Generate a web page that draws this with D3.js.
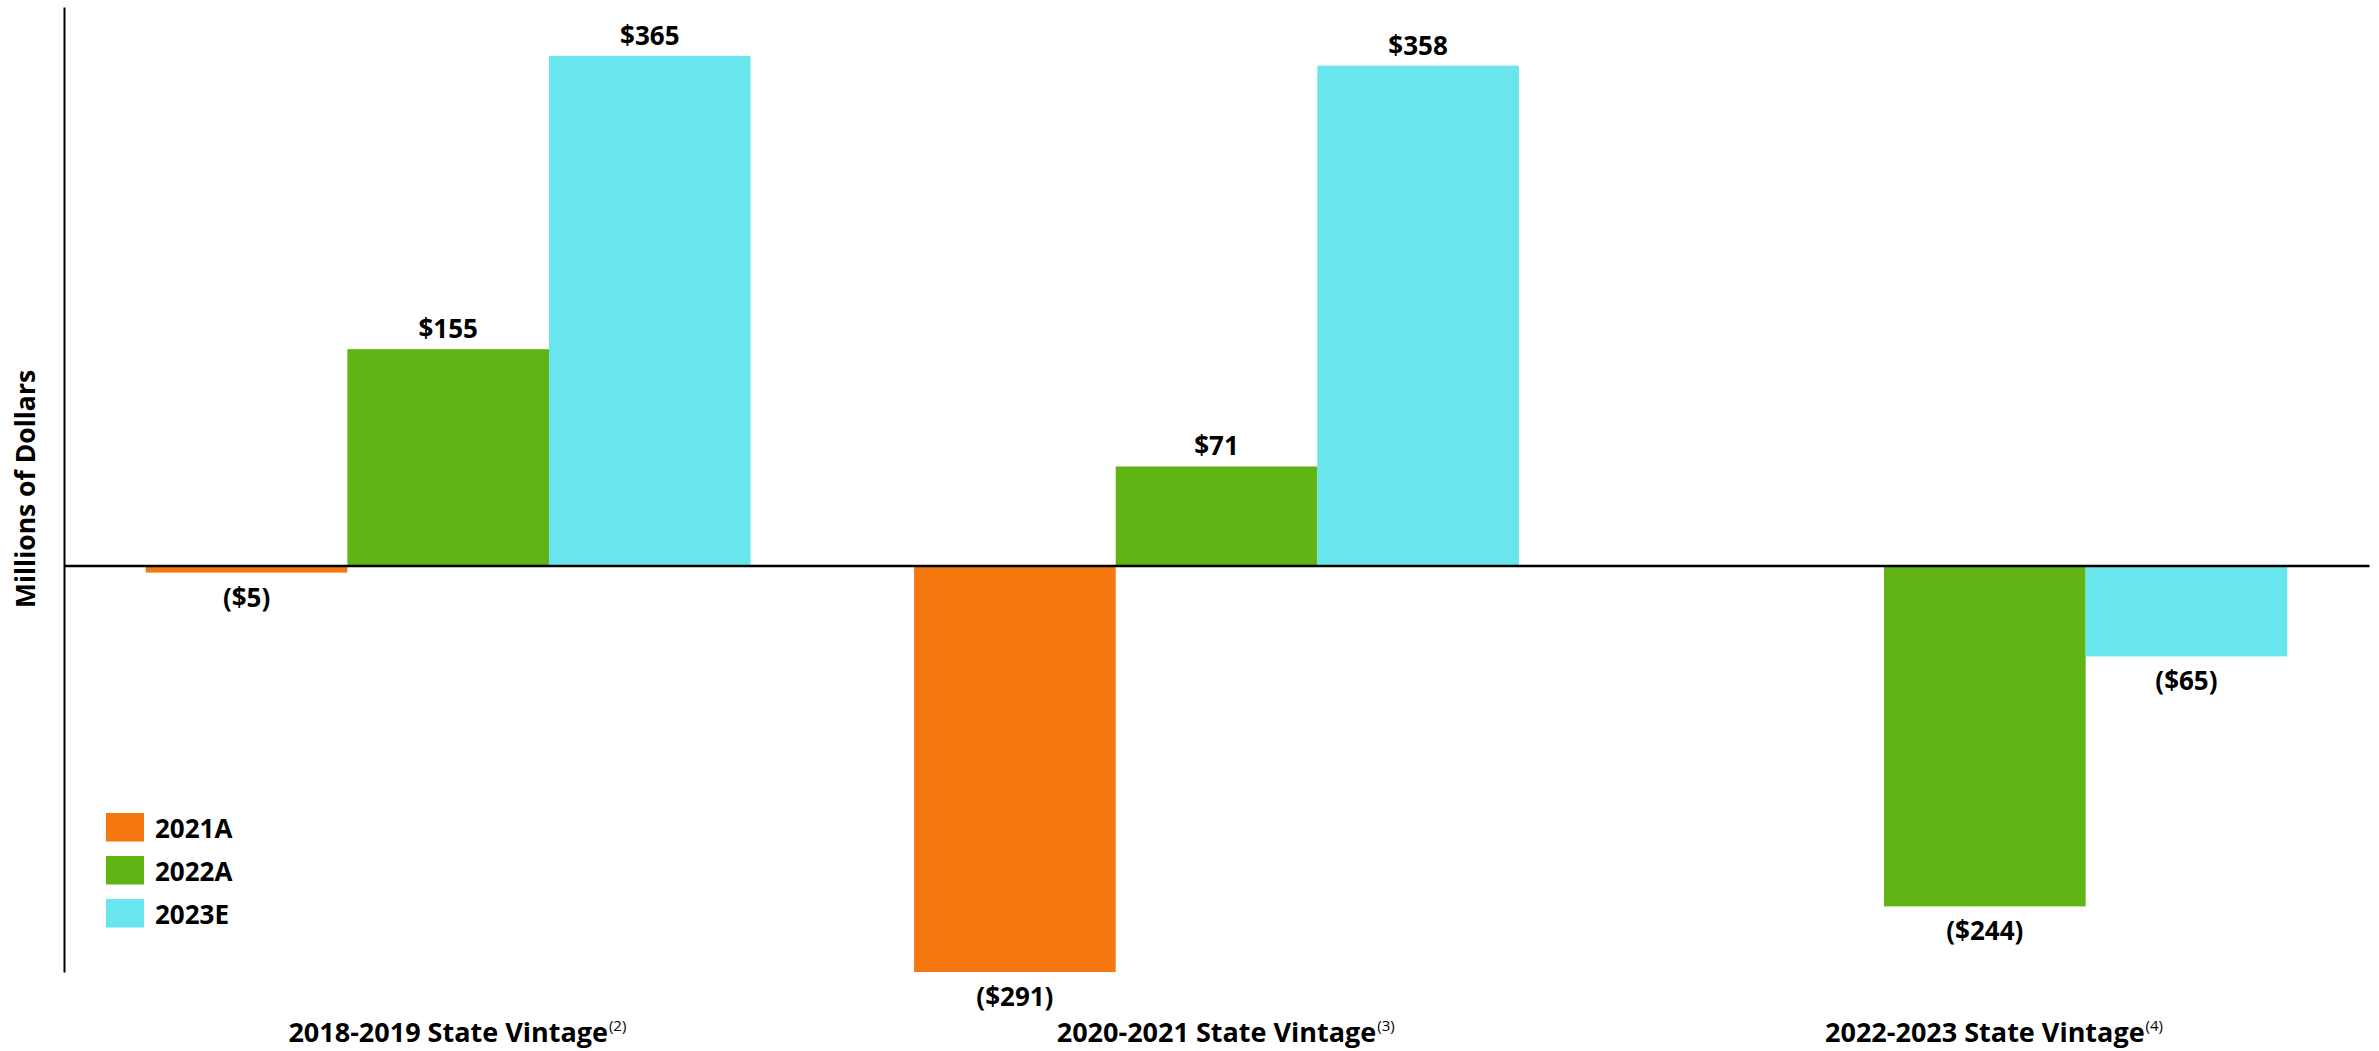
<!DOCTYPE html>
<html>
<head>
<meta charset="utf-8">
<script src="https://cdn.jsdelivr.net/npm/d3@7/dist/d3.min.js"></script>
<style>
  html, body { margin: 0; padding: 0; background: #ffffff; }
  svg { display: block; }
  text { font-family: "Open Sans", "Noto Sans", sans-serif; fill: #000; }
</style>
</head>
<body>
<svg id="chart" width="2379" height="1051"></svg>
<script>
// Vintage groups along the x axis, with their footnote markers
const categories = ["2018-2019 State Vintage", "2020-2021 State Vintage", "2022-2023 State Vintage"];
const footnotes = ["(2)", "(3)", "(4)"];

// Series (years) and their values in millions of dollars; null = no bar
const seriesNames = ["2021A", "2022A", "2023E"];
const values2021A = [-5, -291, null];
const values2022A = [155, 71, -244];
const values2023E = [365, 358, -65];
const seriesColors = ["#f57710", "#60b413", "#69e5ed"];

const yAxisTitle = "Millions of Dollars";

const seriesValues = [values2021A, values2022A, values2023E];
const rows = categories.map((c, i) => ({
  category: c,
  note: footnotes[i],
  bars: seriesNames.map((s, j) => ({ series: s, value: seriesValues[j][i], color: seriesColors[j] }))
}));

const svg = d3.select("#chart");
const plotLeft = 64, plotRight = 2369, plotTop = 7, plotBottom = 972;

const x0 = d3.scaleBand()
  .domain(categories)
  .range([plotLeft, plotRight])
  .paddingInner(0.2128)
  .paddingOuter(0.1064);

const x1 = d3.scaleBand()
  .domain(seriesNames)
  .range([0, x0.bandwidth()])
  .padding(0);

const y = d3.scaleLinear()
  .domain([-291, 400])
  .range([plotBottom, plotTop]);

const fmt = v => v < 0 ? `($${Math.abs(v)})` : `$${v}`;

// Bars
const groups = svg.append("g").selectAll("g")
  .data(rows)
  .join("g")
  .attr("transform", d => `translate(${x0(d.category)},0)`);

groups.selectAll("rect")
  .data(d => d.bars.filter(b => b.value != null))
  .join("rect")
  .attr("x", b => x1(b.series))
  .attr("width", x1.bandwidth())
  .attr("y", b => y(Math.max(0, b.value)))
  .attr("height", b => Math.abs(y(b.value) - y(0)))
  .attr("fill", b => b.color);

// Value labels above positive bars, below negative bars
groups.selectAll("text.value")
  .data(d => d.bars.filter(b => b.value != null))
  .join("text")
  .attr("class", "value")
  .attr("x", b => x1(b.series) + x1.bandwidth() / 2)
  .attr("y", b => b.value >= 0 ? y(b.value) - 11 : y(b.value) + 34)
  .attr("text-anchor", "middle")
  .attr("font-size", 26)
  .attr("font-weight", 700)
  .text(b => fmt(b.value));

// Y axis line (no ticks)
svg.append("g")
  .attr("transform", `translate(${plotLeft},0)`)
  .call(d3.axisLeft(y).tickValues([]).tickSizeOuter(0))
  .call(g => g.select(".domain").attr("stroke", "#000").attr("stroke-width", 2));

// Zero baseline
svg.append("g")
  .attr("transform", `translate(0,${y(0)})`)
  .call(d3.axisBottom(x0).tickValues([]).tickSizeOuter(0))
  .call(g => g.select(".domain").attr("stroke", "#000").attr("stroke-width", 2.5));

// Category labels with superscript footnote markers
const catLabels = svg.append("g").selectAll("g")
  .data(rows)
  .join("g");

catLabels.each(function(d) {
  const g = d3.select(this);
  const cx = x0(d.category) + x0.bandwidth() / 2;
  const main = g.append("text")
    .attr("x", cx)
    .attr("y", 1042)
    .attr("text-anchor", "middle")
    .attr("font-size", 27)
    .attr("font-weight", 700)
    .text(d.category);
  const w = main.node().getComputedTextLength();
  g.append("text")
    .attr("x", cx + w / 2 + 1)
    .attr("y", 1031)
    .attr("font-size", 15)
    .attr("font-weight", 400)
    .text(d.note);
});

// Y axis title
svg.append("text")
  .attr("transform", `translate(35,489) rotate(-90)`)
  .attr("text-anchor", "middle")
  .attr("font-size", 26.5)
  .attr("font-weight", 700)
  .text(yAxisTitle);

// Legend
const legend = svg.append("g").selectAll("g")
  .data(seriesNames)
  .join("g")
  .attr("transform", (d, i) => `translate(106,${813 + i * 43})`);

legend.append("rect")
  .attr("width", 38)
  .attr("height", 28.5)
  .attr("fill", (d, i) => seriesColors[i]);

legend.append("text")
  .attr("x", 49)
  .attr("y", 25)
  .attr("font-size", 26)
  .attr("font-weight", 700)
  .text(d => d);
</script>
</body>
</html>
